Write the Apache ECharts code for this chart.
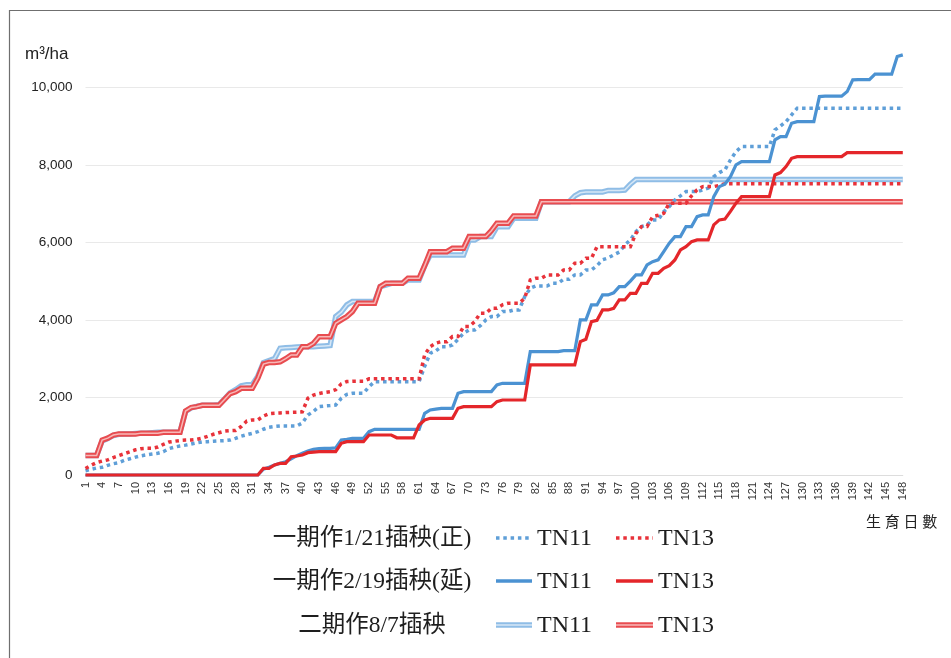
<!DOCTYPE html>
<html>
<head>
<meta charset="utf-8">
<script src="https://cdn.jsdelivr.net/npm/echarts@6/dist/echarts.min.js"></script>
<style>
html,body{margin:0;padding:0;background:#fff;}
#chart{width:951px;height:658px;}
</style>
</head>
<body>
<div id="chart"></div>
<script>
// Days 1..148
const days = [];
for (let i = 1; i <= 148; i++) days.push(String(i));

const yTicks = [0, 2000, 4000, 6000, 8000, 10000];

// 一期作1/21插秧(正) TN11 (dotted blue)
const zhengTN11 = [
  110,146,180,200,250,290,320,380,420,460,
  495,520,540,560,600,680,720,748,770,800,
  830,855,860,870,880,886,900,946,1000,1040,
  1075,1118,1180,1230,1250,1264,1264,1264,1264,1340,
  1548,1640,1763,1780,1790,1806,1978,2080,2107,2107,
  2107,2279,2408,2408,2408,2408,2408,2408,2408,2408,
  2408,2800,3140,3200,3310,3310,3353,3500,3656,3741,
  3741,3850,3999,4085,4085,4214,4214,4257,4257,4600,
  4817,4876,4876,4876,4945,4945,5049,5049,5160,5160,
  5289,5289,5400,5550,5600,5676,5750,5934,6063,6277,
  6406,6450,6579,6579,6793,6922,7095,7200,7310,7310,
  7310,7350,7400,7696,7800,7869,8127,8342,8470,8470,
  8470,8470,8470,8470,8901,9000,9115,9288,9460,9460,
  9460,9460,9460,9460,9460,9460,9460,9460,9460,9460,
  9460,9460,9460,9460,9460,9460,9460,9460
];
// 一期作1/21插秧(正) TN13 (dotted red)
const zhengTN13 = [
  170,250,320,360,390,450,500,550,600,650,
  680,690,690,720,790,850,870,890,900,905,
  920,950,1000,1050,1090,1130,1145,1150,1250,1390,
  1420,1420,1520,1580,1595,1600,1610,1615,1620,1630,
  1980,2060,2100,2130,2150,2200,2350,2410,2420,2420,
  2420,2480,2480,2480,2480,2480,2480,2480,2480,2480,
  2480,3100,3310,3400,3440,3440,3570,3570,3830,3830,
  3955,4170,4170,4300,4300,4390,4430,4430,4430,4560,
  5031,5074,5074,5160,5160,5160,5289,5289,5461,5461,
  5590,5590,5890,5890,5890,5890,5890,5890,5890,6235,
  6406,6410,6664,6700,6750,7010,7010,7010,7010,7200,
  7353,7438,7440,7440,7470,7510,7510,7510,7510,7510,
  7510,7510,7510,7510,7510,7510,7510,7510,7510,7510,
  7510,7510,7510,7510,7510,7510,7510,7510,7510,7510,
  7510,7510,7510,7510,7510,7510,7510,7510
];
// 一期作2/19插秧(延) TN11 (solid blue)
const yanTN11 = [
  0,0,0,0,0,0,0,0,0,0,
  0,0,0,0,0,0,0,0,0,0,
  0,0,0,0,0,0,0,0,0,0,
  0,0,150,200,258,300,344,420,500,560,
  620,662,680,688,688,700,903,920,946,946,
  946,1118,1179,1179,1179,1179,1179,1179,1179,1179,
  1179,1591,1677,1700,1720,1720,1720,2107,2150,2150,
  2150,2150,2150,2150,2322,2365,2365,2365,2365,2365,
  3181,3181,3181,3181,3181,3181,3207,3207,3207,4000,
  4000,4386,4386,4644,4644,4700,4858,4858,5000,5160,
  5160,5418,5504,5550,5762,5978,6149,6149,6406,6406,
  6664,6707,6707,7180,7438,7500,7696,7998,8083,8083,
  8083,8083,8083,8083,8643,8728,8728,9073,9115,9115,
  9115,9115,9760,9770,9770,9770,9770,9889,10191,10200,
  10200,10200,10338,10338,10338,10338,10792,10836
];
// 一期作2/19插秧(延) TN13 (solid red)
const yanTN13 = [
  0,0,0,0,0,0,0,0,0,0,
  0,0,0,0,0,0,0,0,0,0,
  0,0,0,0,0,0,0,0,0,0,
  0,0,172,172,258,301,301,473,490,516,
  576,590,602,602,602,602,817,860,860,860,
  860,1032,1032,1032,1032,1032,960,960,960,960,
  1290,1419,1462,1462,1462,1462,1462,1720,1763,1763,
  1763,1763,1763,1763,1892,1935,1935,1935,1935,1935,
  2838,2838,2838,2838,2838,2838,2838,2838,2838,3440,
  3500,3955,3990,4257,4257,4300,4515,4515,4687,4687,
  4945,4945,5203,5203,5332,5400,5547,5805,5890,6020,
  6063,6063,6063,6450,6579,6600,6800,7010,7180,7180,
  7180,7180,7180,7180,7740,7800,7954,8170,8212,8212,
  8212,8212,8212,8212,8212,8212,8212,8316,8316,8316,
  8316,8316,8316,8316,8316,8316,8316,8316
];
// 二期作8/7插秧 TN11 (double light blue)
const erTN11 = [
  500,500,500,880,940,1020,1050,1060,1060,1070,
  1080,1080,1090,1100,1100,1100,1100,1110,1640,1730,
  1770,1800,1800,1800,1810,1960,2120,2200,2300,2330,
  2330,2550,2900,2950,3000,3268,3280,3290,3300,3310,
  3310,3310,3320,3330,3340,4085,4200,4386,4472,4472,
  4472,4472,4472,4858,4900,4945,4945,4945,5031,5031,
  5031,5400,5676,5676,5676,5676,5676,5676,5676,6063,
  6063,6149,6149,6149,6400,6400,6400,6622,6622,6622,
  6622,6622,7051,7051,7051,7051,7051,7051,7200,7280,
  7300,7300,7300,7300,7340,7340,7340,7350,7500,7620,
  7620,7620,7620,7620,7620,7620,7620,7620,7620,7620,
  7620,7620,7620,7620,7620,7620,7620,7620,7620,7620,
  7620,7620,7620,7620,7620,7620,7620,7620,7620,7620,
  7620,7620,7620,7620,7620,7620,7620,7620,7620,7620,
  7620,7620,7620,7620,7620,7620,7620,7620
];
// 二期作8/7插秧 TN13 (double red)
const erTN13 = [
  500,500,500,900,950,1030,1060,1060,1060,1060,
  1080,1080,1080,1080,1100,1100,1100,1100,1650,1740,
  1763,1798,1798,1798,1798,1950,2100,2150,2236,2236,
  2236,2500,2860,2900,2900,2920,3000,3096,3096,3310,
  3310,3397,3568,3568,3568,3913,4000,4085,4214,4430,
  4430,4430,4430,4858,4945,4945,4945,4945,5074,5074,
  5074,5400,5761,5761,5761,5761,5848,5848,5848,6149,
  6149,6149,6150,6300,6493,6493,6493,6682,6682,6682,
  6682,6682,7051,7051,7051,7051,7051,7051,7051,7051,
  7051,7051,7051,7051,7051,7051,7051,7051,7051,7051,
  7051,7051,7051,7051,7051,7051,7051,7051,7051,7051,
  7051,7051,7051,7051,7051,7051,7051,7051,7051,7051,
  7051,7051,7051,7051,7051,7051,7051,7051,7051,7051,
  7051,7051,7051,7051,7051,7051,7051,7051,7051,7051,
  7051,7051,7051,7051,7051,7051,7051,7051
];

const legendRows = ['一期作1/21插秧(正)', '一期作2/19插秧(延)', '二期作8/7插秧'];
const legendNames = ['TN11', 'TN13'];

const C = {
  dotBlue: '#5f9fd8', dotRed: '#e8323a',
  solBlue: '#4b92d2', solRed: '#e4262a',
  dblBlue: '#8fbde6', dblBlueIn: '#d6e7f6',
  dblRed: '#e84c50', dblRedIn: '#f7b8b8'
};

function line(name, data, color, width, type, z) {
  return {
    name: name, type: 'line', data: data, symbol: 'none', clip: false,
    z: z, animation: false,
    lineStyle: { color: color, width: width, type: type || 'solid', cap: 'butt', join: 'miter' }
  };
}

const chart = echarts.init(document.getElementById('chart'), null, { renderer: 'canvas' });

const serifCJK = "'Liberation Serif','Noto Sans CJK TC','Noto Sans CJK SC',serif";
const sans = "'Liberation Sans', Arial, sans-serif";

const rowY = [538, 581, 625];
const legendGraphics = [];
const samples = [
  [{ c: C.dotBlue, type: 'dot' }, { c: C.dotRed, type: 'dot' }],
  [{ c: C.solBlue, type: 'solid' }, { c: C.solRed, type: 'solid' }],
  [{ c: C.dblBlue, inner: C.dblBlueIn, type: 'dbl' }, { c: C.dblRed, inner: C.dblRedIn, type: 'dbl' }]
];
const sampleX = [[496, 532], [616, 653]];
const textX = [537, 658];
for (let r = 0; r < 3; r++) {
  legendGraphics.push({
    type: 'text', silent: true,
    style: { x: 372, y: rowY[r] + 1, text: legendRows[r], font: "23.5px " + serifCJK, fill: '#1e1e1e',
      textAlign: 'center', textVerticalAlign: 'middle', align: 'center', verticalAlign: 'middle' }
  });
  for (let k = 0; k < 2; k++) {
    const s = samples[r][k];
    const shape = { x1: sampleX[k][0], y1: rowY[r], x2: sampleX[k][1], y2: rowY[r] };
    if (s.type === 'dot') {
      legendGraphics.push({ type: 'line', shape: shape, silent: true,
        style: { stroke: s.c, lineWidth: 3.5, lineDash: [3.5, 3.8] } });
    } else if (s.type === 'solid') {
      legendGraphics.push({ type: 'line', shape: shape, silent: true,
        style: { stroke: s.c, lineWidth: 3.5 } });
    } else {
      legendGraphics.push({ type: 'line', shape: shape, silent: true,
        style: { stroke: s.c, lineWidth: 5.5 } });
      legendGraphics.push({ type: 'line', shape: shape, silent: true,
        style: { stroke: s.inner, lineWidth: 1.5 } });
    }
    legendGraphics.push({
      type: 'text', silent: true,
      style: { x: textX[k], y: rowY[r] + 1, text: legendNames[k], font: "24px 'Liberation Serif', serif", fill: '#1e1e1e',
        textAlign: 'left', textVerticalAlign: 'middle', align: 'left', verticalAlign: 'middle' }
    });
  }
}

const option = {
  animation: false,
  backgroundColor: '#ffffff',
  grid: { left: 85.5, top: 87.3, width: 817.3, height: 387.7, containLabel: false },
  xAxis: {
    type: 'category', data: days, boundaryGap: false,
    axisLine: { show: true, lineStyle: { color: '#dddddd', width: 1 } },
    axisTick: { show: false },
    axisLabel: { interval: 2, rotate: 90, fontSize: 11, color: '#333', margin: 7, fontFamily: sans },
    splitLine: { show: false }
  },
  yAxis: {
    type: 'value', min: yTicks[0], max: yTicks[yTicks.length - 1], interval: 2000,
    axisLine: { show: false }, axisTick: { show: false },
    axisLabel: {
      fontSize: 13.5, color: '#222', margin: 13, fontFamily: sans,
      formatter: function (v) { return v.toString().replace(/\B(?=(\d{3})+(?!\d))/g, ','); }
    },
    splitLine: { show: true, lineStyle: { color: '#e9e9e9', width: 1.2 } }
  },
  graphic: [
    { type: 'rect', shape: { x: 9.5, y: 10.5, width: 945, height: 700 }, silent: true, z: -10,
      style: { fill: 'none', stroke: '#6f6f6f', lineWidth: 1.2 } },
    { type: 'text', left: 25, top: 46, silent: true,
      style: { text: 'm³/ha', font: "17px " + sans, fill: '#222' } },
    { type: 'text', left: 866, top: 516, silent: true,
      style: { text: '生 育 日 數', font: "15px " + serifCJK, fill: '#222' } }
  ].concat(legendGraphics),
  series: [
    line('二期作TN11', erTN11, C.dblBlue, 5.5, 'solid', 2),
    line('二期作TN11內', erTN11, C.dblBlueIn, 1.5, 'solid', 2),
    line('二期作TN13', erTN13, C.dblRed, 5.5, 'solid', 3),
    line('二期作TN13內', erTN13, C.dblRedIn, 1.5, 'solid', 3),
    line('正TN11', zhengTN11, C.dotBlue, 3.5, [3.5, 3.8], 4),
    line('正TN13', zhengTN13, C.dotRed, 3.5, [3.5, 3.8], 4),
    line('延TN11', yanTN11, C.solBlue, 3.2, 'solid', 5),
    line('延TN13', yanTN13, C.solRed, 3.2, 'solid', 5)
  ]
};
chart.setOption(option);
</script>
</body>
</html>
